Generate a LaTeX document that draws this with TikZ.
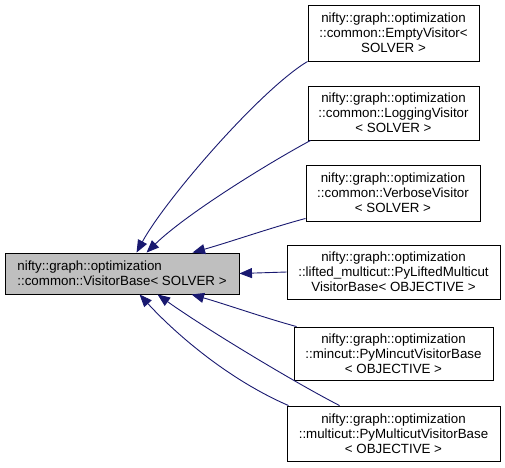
\documentclass[tikz,border=0pt]{standalone}
\usepackage{fontspec}
\setmainfont{Liberation Sans}
\usetikzlibrary{arrows.meta}
\definecolor{edgeblue}{HTML}{191970}
\definecolor{basefill}{HTML}{BFBFBF}
\tikzset{
  classbox/.style={draw=black, line width=0.9pt, fill=white, inner sep=0pt,
    font=\fontsize{13.33pt}{15pt}\selectfont, align=center},
  basebox/.style={classbox, fill=basefill, align=left},
  inherit/.style={draw=edgeblue, line width=0.9pt,
    -{Triangle[length=12.5pt,width=10pt]}, edgeblue},
}
\begin{document}
\begin{tikzpicture}[x=1pt,y=-1pt]
\useasboundingbox (0,0) rectangle (505,467);
\node[basebox, minimum width=234pt, minimum height=41pt] (base) at (122,273.5)
  {nifty::graph::optimization\\::common::VisitorBase< SOLVER >};
\node[classbox, minimum width=171pt, minimum height=56pt] (empty) at (393.5,33)
  {nifty::graph::optimization\\::common::EmptyVisitor<\\SOLVER >};
\node[classbox, minimum width=171pt, minimum height=54pt] (logging) at (393.5,113)
  {nifty::graph::optimization\\::common::LoggingVisitor\\< SOLVER >};
\node[classbox, minimum width=174pt, minimum height=56pt] (verbose) at (393,193)
  {nifty::graph::optimization\\::common::VerboseVisitor\\< SOLVER >};
\node[classbox, minimum width=213pt, minimum height=54pt] (lifted) at (393.5,272)
  {nifty::graph::optimization\\::lifted\_multicut::PyLiftedMulticut\\VisitorBase< OBJECTIVE >};
\node[classbox, minimum width=199pt, minimum height=53pt] (mincut) at (393.5,353.5)
  {nifty::graph::optimization\\::mincut::PyMincutVisitorBase\\< OBJECTIVE >};
\node[classbox, minimum width=213pt, minimum height=55pt] (multicut) at (393.5,433.5)
  {nifty::graph::optimization\\::multicut::PyMulticutVisitorBase\\< OBJECTIVE >};

\draw[inherit] (empty.south west) .. controls (260,90) and (165,200) .. ([xshift=132pt]base.north west);
\draw[inherit] ([xshift=3pt]logging.south west) .. controls (265,165) and (185,215) .. ([xshift=142pt]base.north west);
\draw[inherit] ([yshift=3pt]verbose.south west) .. controls (270,228) and (230,242) .. ([xshift=188pt]base.north west);
\draw[inherit] (lifted.west) -- (base.east);
\draw[inherit] ([xshift=3pt]mincut.north west) .. controls (265,318) and (225,304) .. ([xshift=187pt]base.south west);
\draw[inherit] ([xshift=53pt]multicut.north west) .. controls (290,380) and (200,325) .. ([xshift=153pt]base.south west);
\draw[inherit] ([xshift=2pt]multicut.north west) .. controls (225,378) and (172,330) .. ([xshift=135pt]base.south west);
\end{tikzpicture}
\end{document}
